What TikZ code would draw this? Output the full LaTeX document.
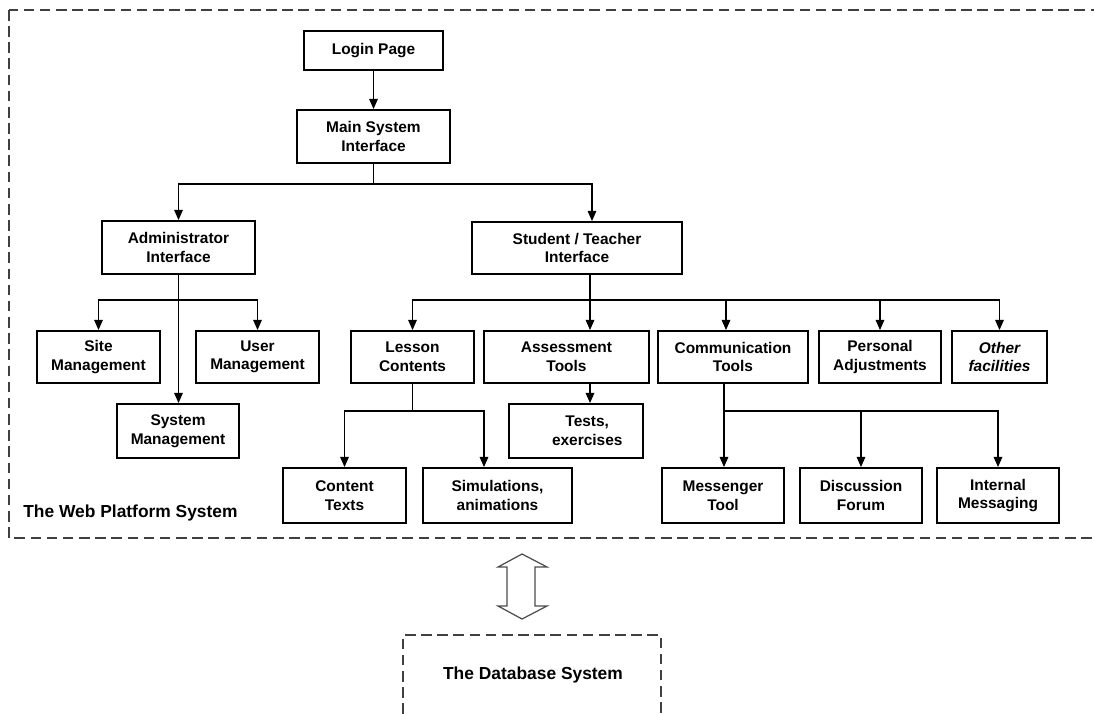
\documentclass[tikz,border=0pt]{standalone}
\usepackage{fontspec}
\setmainfont{Liberation Sans}
\usetikzlibrary{arrows.meta}

\begin{document}
\begin{tikzpicture}[
  x=0.02cm, y=-0.02cm,
  box/.style={draw, line width=1pt, align=center, inner sep=1pt,
              font=\bfseries\fontsize{8.8}{10.6}\selectfont},
  arr/.style={line width=0.95pt, -{Triangle[width=4.8pt,length=5.8pt]}},
  bus/.style={line width=0.95pt},
  frame/.style={draw=black!75, line width=0.9pt, dash pattern=on 6pt off 3.2pt},
  lbl/.style={font=\bfseries\fontsize{9.9}{12}\selectfont, inner sep=0pt},
  link/.style={draw=black!70, line width=0.7pt, fill=white},
]
  \useasboundingbox (0,0) rectangle (1094,713);
  \clip (0,0) rectangle (1094,713);

  % --- outer frames ---
  \draw[frame] (9,10) rectangle (1110,538);
  \draw[frame] (403,730) -- (403,635) -- (661,635) -- (661,730);
  \node[lbl, anchor=west] (web) at (23,513) {The Web Platform System};
  \node[lbl] (db) at (533,675) {The Database System};

  % --- top levels ---
  \node[box, minimum width=2.78cm, minimum height=0.78cm] (login) at (373.5,50.5) {Login Page};
  \node[box, minimum width=3.06cm, minimum height=1.06cm] (main) at (373.5,136.5) {Main System\\Interface};
  \node[box, minimum width=3.06cm, minimum height=1.06cm] (admin) at (178.5,247.5) {Administrator\\Interface};
  \node[box, minimum width=4.2cm, minimum height=1.04cm] (stud) at (577,248) {Student / Teacher\\Interface};

  % --- administrator branch ---
  \node[box, minimum width=2.46cm, minimum height=1.04cm] (site) at (98.5,357) {Site\\Management};
  \node[box, minimum width=2.46cm, minimum height=1.04cm] (user) at (257.5,357) {User\\Management};
  \node[box, minimum width=2.44cm, minimum height=1.08cm] (sysm) at (178,431) {System\\Management};

  % --- student / teacher branch ---
  \node[box, minimum width=2.46cm, minimum height=1.04cm] (lesson) at (412.5,357) {Lesson\\Contents};
  \node[box, minimum width=3.3cm, minimum height=1.04cm] (assess) at (566.5,357) {Assessment\\Tools};
  \node[box, minimum width=3.0cm, minimum height=1.04cm] (comm) at (733,357) {Communication\\Tools};
  \node[box, minimum width=2.44cm, minimum height=1.04cm] (pers) at (880,357) {Personal\\Adjustments};
  \node[box, minimum width=1.9cm, minimum height=1.04cm] (other) at (999.5,357) {\itshape Other\\\itshape facilities};
  \node[box, minimum width=2.68cm, minimum height=1.08cm] (tests) at (576,431) {\hspace*{0.45cm}Tests,\\\hspace*{0.45cm}exercises};

  % --- bottom row ---
  \node[box, minimum width=2.46cm, minimum height=1.1cm] (ctext) at (344.5,495.5) {Content\\Texts};
  \node[box, minimum width=2.98cm, minimum height=1.1cm] (simul) at (497.5,495.5) {Simulations,\\animations};
  \node[box, minimum width=2.44cm, minimum height=1.1cm] (mess) at (723,495.5) {Messenger\\Tool};
  \node[box, minimum width=2.44cm, minimum height=1.1cm] (disc) at (861,495.5) {Discussion\\Forum};
  \node[box, minimum width=2.44cm, minimum height=1.1cm] (intm) at (998,495.5) {Internal\\Messaging};

  % --- connectors ---
  \draw[arr] (login) -- (main);
  \draw[bus] (main.south) -- ++(0,20) coordinate (mbus);
  \draw[arr] (mbus) -| (admin.north);
  \draw[arr] (mbus) -| ([xshift=0.3cm]stud.north);

  \draw[bus] (admin.south) -- ++(0,25) coordinate (abus);
  \draw[arr] (abus) -| (site.north);
  \draw[arr] (abus) -| (user.north);
  \draw[arr] (abus) -- (abus |- sysm.north);

  \draw[bus] ([xshift=0.26cm]stud.south) -- ++(0,25) coordinate (sbus);
  \draw[arr] (sbus) -| (lesson.north);
  \draw[arr] (sbus) -- (sbus |- assess.north);
  \draw[arr] (sbus) -| ([xshift=-0.14cm]comm.north);
  \draw[arr] (sbus) -| (pers.north);
  \draw[arr] (sbus) -| (other.north);
  \draw[arr] (assess.south -| sbus) -- (tests.north -| sbus);

  \draw[bus] (lesson.south) -- ++(0,27) coordinate (lbus);
  \draw[arr] (lbus) -| (ctext.north);
  \draw[arr] (lbus) -| ([xshift=-0.27cm]simul.north);

  \draw[bus] ([xshift=-0.18cm]comm.south) -- ++(0,27) coordinate (cbus);
  \draw[arr] (cbus) -- (cbus |- mess.north);
  \draw[arr] (cbus) -| (disc.north);
  \draw[arr] (cbus) -| (intm.north);

  % --- link to database ---
  \draw[link] (522,554) -- (547,567) -- (535,567) -- (535,606) -- (547,606)
              -- (522,619) -- (498,606) -- (507,606) -- (507,567) -- (498,567) -- cycle;
\end{tikzpicture}
\end{document}
